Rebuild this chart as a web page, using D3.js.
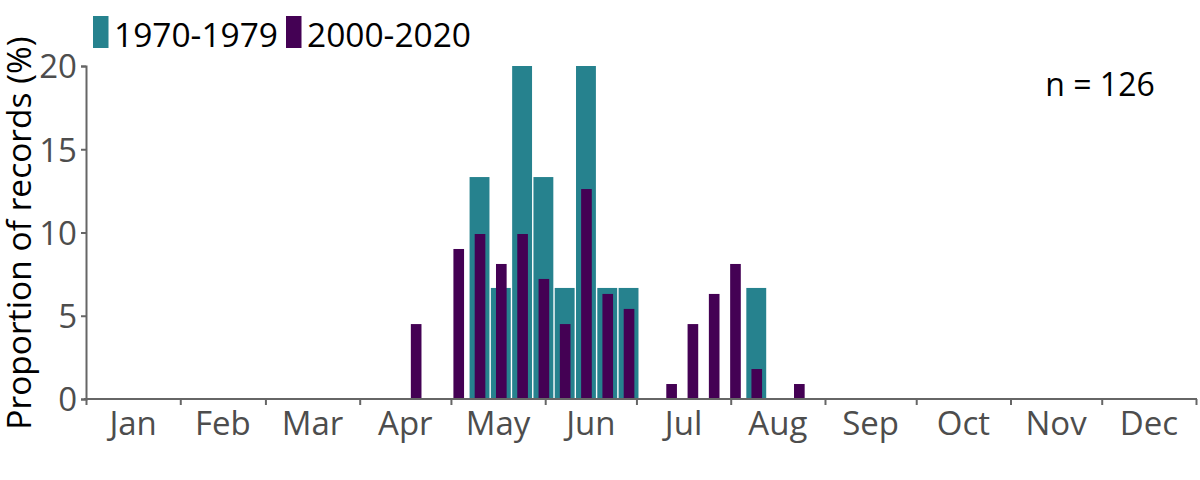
<!DOCTYPE html>
<html>
<head>
<meta charset="utf-8">
<script src="https://cdn.jsdelivr.net/npm/d3@7"></script>
<style>
  html, body { margin: 0; padding: 0; background: #fff; }
  svg { display: block; font-family: "Open Sans", "DejaVu Sans", sans-serif; }
</style>
</head>
<body>
<svg id="chart" width="1200" height="480"></svg>
<script>
// ---- Data (weekly bins, start date of each week) ----
const monthLabels = ["Jan","Feb","Mar","Apr","May","Jun","Jul","Aug","Sep","Oct","Nov","Dec"];
const yTicks = [0, 5, 10, 15, 20];
const seriesNames = ["1970-1979", "2000-2020"];
const seriesColors = ["#26828E", "#440154"];

const weeks1970 = ["2021-05-07","2021-05-14","2021-05-21","2021-05-28","2021-06-04","2021-06-11","2021-06-18","2021-06-25","2021-08-06"];
const values1970 = [13.33, 6.67, 20.0, 13.33, 6.67, 20.0, 6.67, 6.67, 6.67];

const weeks2000 = ["2021-04-16","2021-04-30","2021-05-07","2021-05-14","2021-05-21","2021-05-28","2021-06-04","2021-06-11","2021-06-18","2021-06-25","2021-07-09","2021-07-16","2021-07-23","2021-07-30","2021-08-06","2021-08-20"];
const values2000 = [4.50, 9.01, 9.91, 8.11, 9.91, 7.21, 4.50, 12.61, 6.31, 5.41, 0.90, 4.50, 6.31, 8.11, 1.80, 0.90];

const nLabel = "n = 126";
const yTitle = "Proportion of records (%)";

// ---- Layout ----
const svg = d3.select("#chart");
const mLeft = 86, mRight = 1196, mTop = 66, mBottom = 399;
const parse = d3.utcParse("%Y-%m-%d");
const yearStart = parse("2021-01-01"), yearEnd = parse("2022-01-01");

const x = d3.scaleUtc().domain([yearStart, yearEnd]).range([mLeft, mRight]);
const y = d3.scaleLinear().domain([0, 20]).range([mBottom, mTop]);

const weekEnd = d => d3.utcDay.offset(d, 7);

// ---- Bars ----
const d1970 = weeks1970.map((w, i) => ({ start: parse(w), v: values1970[i] }));
const d2000 = weeks2000.map((w, i) => ({ start: parse(w), v: values2000[i] }));

svg.append("g").selectAll("rect").data(d1970).join("rect")
  .attr("x", d => x(d.start) + 0.4)
  .attr("width", d => x(weekEnd(d.start)) - x(d.start) - 1.4)
  .attr("y", d => y(d.v))
  .attr("height", d => y(0) - y(d.v))
  .attr("fill", seriesColors[0]);

svg.append("g").selectAll("rect").data(d2000).join("rect")
  .attr("x", d => { const w = x(weekEnd(d.start)) - x(d.start); return x(d.start) + w * 0.25 + 0.2; })
  .attr("width", d => (x(weekEnd(d.start)) - x(d.start)) * 0.5)
  .attr("y", d => y(d.v))
  .attr("height", d => y(0) - y(d.v))
  .attr("fill", seriesColors[1]);

// ---- Axes ----
const axisColor = "#666666";
const labelColor = "#4d4d4d";

const monthStarts = d3.utcMonth.range(yearStart, d3.utcDay.offset(yearEnd, 1));
const xAxis = svg.append("g")
  .attr("transform", `translate(0,${mBottom})`)
  .call(d3.axisBottom(x).tickValues(monthStarts).tickSize(6).tickSizeOuter(0).tickFormat(""));
xAxis.select(".domain").attr("stroke", axisColor).attr("stroke-width", 2)
  .attr("d", `M${mLeft - 2},0H${mRight + 1}`);
xAxis.selectAll(".tick line").attr("stroke", axisColor).attr("stroke-width", 2);

svg.append("g").selectAll("text").data(monthStarts.slice(0, 12)).join("text")
  .attr("x", (d, i) => (x(d) + x(d3.utcMonth.offset(d, 1))) / 2)
  .attr("y", 435)
  .attr("text-anchor", "middle")
  .attr("fill", labelColor)
  .style("font-size", "33px")
  .text((d, i) => monthLabels[i]);

const yAxis = svg.append("g")
  .attr("transform", `translate(${mLeft},0)`)
  .call(d3.axisLeft(y).tickValues(yTicks).tickSize(5).tickSizeOuter(5).tickPadding(4));
yAxis.select(".domain").attr("stroke", axisColor).attr("stroke-width", 2);
yAxis.selectAll(".tick line").attr("stroke", axisColor).attr("stroke-width", 2);
yAxis.selectAll(".tick text").attr("fill", labelColor).style("font-size", "33px")
  .attr("dy", "0.36em").style("font-family", "'Open Sans', sans-serif");

// ---- Y title ----
svg.append("text")
  .attr("transform", `translate(31,233) rotate(-90)`)
  .attr("text-anchor", "middle")
  .attr("fill", "#000")
  .style("font-size", "33.5px")
  .text(yTitle);

// ---- Legend ----
const legendX = [93, 286];
const legend = svg.append("g");
seriesNames.forEach((name, i) => {
  legend.append("rect").attr("x", legendX[i]).attr("y", 16).attr("width", 15.5).attr("height", 32)
    .attr("fill", seriesColors[i]);
  legend.append("text").attr("x", legendX[i] + 21).attr("y", 46.5)
    .attr("fill", "#000").style("font-size", "33.5px").text(name);
});

// ---- n label ----
svg.append("text")
  .attr("x", 1100).attr("y", 96)
  .attr("text-anchor", "middle")
  .attr("fill", "#000")
  .style("font-size", "32px")
  .text(nLabel);
</script>
</body>
</html>
